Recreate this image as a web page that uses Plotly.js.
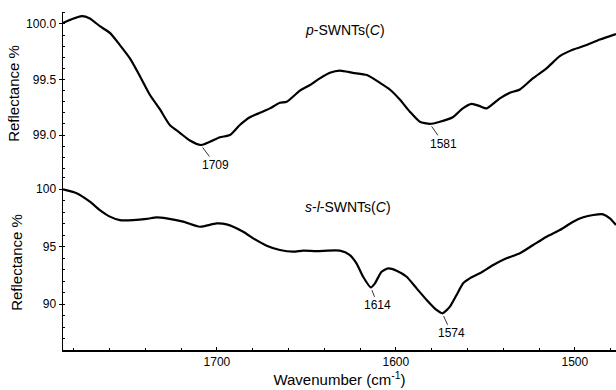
<!DOCTYPE html>
<html>
<head>
<meta charset="utf-8">
<script src="https://cdn.plot.ly/plotly-3.0.1.min.js"></script>
<style>html,body{margin:0;padding:0;background:#fff;}#chart{width:616px;height:390px;}</style>
</head>
<body>
<div id="chart"></div>
<script>
// p-SWNTs(C) spectrum (top panel)
const topWavenumber = [1786, 1775.6, 1771, 1765.4, 1759.8, 1754.2, 1748.6, 1743, 1737.4, 1731.8, 1726.3, 1720.7, 1715.1, 1709, 1703.9, 1698.3, 1692.7, 1687.2, 1681.6, 1676, 1670.4, 1664.8, 1661, 1653.6, 1648, 1645.3, 1642.5, 1636.9, 1631.3, 1624, 1616.2, 1608.9, 1603.4, 1597.8, 1592.2, 1586.6, 1581, 1575.4, 1568.2, 1562.6, 1557.7, 1553.1, 1549.3, 1541.9, 1536.3, 1530.7, 1523.5, 1515.8, 1508.4, 1500.9, 1493.5, 1486, 1477];
const topReflectance = [100.01, 100.07, 100.05, 99.98, 99.92, 99.81, 99.69, 99.53, 99.36, 99.23, 99.09, 99.02, 98.95, 98.91, 98.94, 98.98, 99.0, 99.09, 99.16, 99.2, 99.24, 99.29, 99.30, 99.40, 99.45, 99.48, 99.51, 99.56, 99.58, 99.56, 99.54, 99.47, 99.41, 99.32, 99.21, 99.12, 99.10, 99.12, 99.16, 99.24, 99.28, 99.26, 99.24, 99.33, 99.38, 99.41, 99.51, 99.60, 99.71, 99.77, 99.81, 99.86, 99.91];

// s-l-SWNTs(C) spectrum (bottom panel)
const botWavenumber = [1786, 1778.4, 1771, 1765.4, 1759.8, 1754.2, 1746.9, 1739.3, 1733.7, 1728.1, 1718.8, 1709.5, 1700.2, 1694.6, 1685.3, 1679.7, 1672.2, 1664.8, 1657.4, 1651.8, 1644.3, 1631.3, 1625.7, 1622, 1618.3, 1614, 1611.7, 1608, 1604.3, 1599.6, 1594, 1588.4, 1582.8, 1577.3, 1574, 1569.8, 1566.1, 1562.4, 1558.7, 1553.1, 1545.6, 1538.2, 1530.7, 1523.3, 1515.8, 1508.4, 1500.9, 1495.3, 1489.7, 1484.2, 1480.4, 1477];
const botReflectance = [99.97, 99.63, 98.9, 98.17, 97.6, 97.3, 97.3, 97.4, 97.54, 97.45, 97.16, 96.72, 97.01, 96.93, 96.29, 95.71, 95.07, 94.7, 94.55, 94.64, 94.6, 94.64, 94.26, 93.54, 92.37, 91.45, 91.8, 92.81, 93.1, 92.9, 92.37, 91.36, 90.35, 89.48, 89.19, 89.77, 90.78, 91.8, 92.23, 92.67, 93.39, 93.97, 94.41, 95.13, 95.85, 96.43, 97.16, 97.54, 97.74, 97.8, 97.45, 96.87];

// peak labels
const topPeaks = [1709, 1581];
const botPeaks = [1614, 1574];
const topLabel = '<i>p</i>-SWNTs(<i>C</i>)';
const botLabel = '<i>s</i>-<i>l</i>-SWNTs(<i>C</i>)';
const xTitle = 'Wavenumber (cm<sup>-1</sup>)';
const yTitle = 'Reflectance %';

function valueAt(xs, ys, x) {
  let best = 0;
  for (let i = 0; i < xs.length; i++) if (Math.abs(xs[i] - x) < Math.abs(xs[best] - x)) best = i;
  return ys[best];
}

const font = {family: 'Liberation Sans, Arial, sans-serif', color: '#000'};

const traces = [
  {x: topWavenumber, y: topReflectance, xaxis: 'x', yaxis: 'y', mode: 'lines', line: {color: '#000', width: 2.2, shape: 'spline', smoothing: 0.6}, hoverinfo: 'skip'},
  {x: botWavenumber, y: botReflectance, xaxis: 'x', yaxis: 'y2', mode: 'lines', line: {color: '#000', width: 2.2, shape: 'spline', smoothing: 0.6}, hoverinfo: 'skip'}
];

const peakOffsets = {1709: [15, 20], 1581: [14, 20], 1614: [7, 18], 1574: [9, 20]};

const annotations = [];
topPeaks.forEach(p => annotations.push({x: p, y: valueAt(topWavenumber, topReflectance, p), xref: 'x', yref: 'y', text: String(p), showarrow: true, arrowhead: 0, arrowwidth: 0.8, arrowcolor: '#000', ax: peakOffsets[p][0], ay: peakOffsets[p][1], standoff: 3, font: Object.assign({size: 12}, font)}));
botPeaks.forEach(p => annotations.push({x: p, y: valueAt(botWavenumber, botReflectance, p), xref: 'x', yref: 'y2', text: String(p), showarrow: true, arrowhead: 0, arrowwidth: 0.8, arrowcolor: '#000', ax: peakOffsets[p][0], ay: peakOffsets[p][1], standoff: 3, font: Object.assign({size: 12}, font)}));
annotations.push({x: 1628.5, y: 99.95, xref: 'x', yref: 'y', text: topLabel, showarrow: false, font: Object.assign({size: 14}, font)});
annotations.push({x: 1626.8, y: 98.43, xref: 'x', yref: 'y2', text: botLabel, showarrow: false, font: Object.assign({size: 14}, font)});

const layout = {
  width: 616, height: 390,
  margin: {l: 63, r: 0, t: 12, b: 40},
  paper_bgcolor: '#fff', plot_bgcolor: '#fff',
  showlegend: false,
  font: Object.assign({size: 12}, font),
  xaxis: {
    range: [1786, 1477], anchor: 'y2', domain: [0, 1],
    showline: true, linecolor: '#000', linewidth: 1.5, mirror: false,
    showgrid: false, zeroline: false,
    tickvals: [1700, 1600, 1500], ticks: 'inside', ticklen: 3, tickcolor: '#000', tickwidth: 1,
    minor: {dtick: 20, tick0: 1500, ticks: 'inside', ticklen: 2, tickcolor: '#000', showgrid: false},
    tickfont: Object.assign({size: 12}, font),
    title: {text: xTitle, font: Object.assign({size: 15}, font), standoff: 6}
  },
  yaxis: {
    domain: [0.5178, 1], range: [98.64, 100.108], anchor: 'x',
    showline: true, linecolor: '#000', linewidth: 1.5, showgrid: false, zeroline: false,
    tickvals: [99.0, 99.5, 100.0], ticktext: ['99.0', '99.5', '100.0'],
    ticks: 'outside', ticklen: 3, tickcolor: '#000',
    minor: {dtick: 0.1, tick0: 99, ticks: 'inside', ticklen: 2, tickcolor: '#000', showgrid: false},
    tickfont: Object.assign({size: 12}, font),
    title: {text: yTitle, font: Object.assign({size: 15}, font), standoff: 3}
  },
  yaxis2: {
    domain: [0, 0.5178], range: [86.0, 101.22], anchor: 'x',
    showline: true, linecolor: '#000', linewidth: 1.5, showgrid: false, zeroline: false,
    tickvals: [90, 95, 100],
    ticks: 'outside', ticklen: 3, tickcolor: '#000',
    minor: {dtick: 1, tick0: 90, ticks: 'inside', ticklen: 2, tickcolor: '#000', showgrid: false},
    tickfont: Object.assign({size: 12}, font),
    title: {text: yTitle, font: Object.assign({size: 15}, font), standoff: 10}
  },
  annotations: annotations
};

Plotly.newPlot('chart', traces, layout, {staticPlot: true, displayModeBar: false});
</script>
</body>
</html>
